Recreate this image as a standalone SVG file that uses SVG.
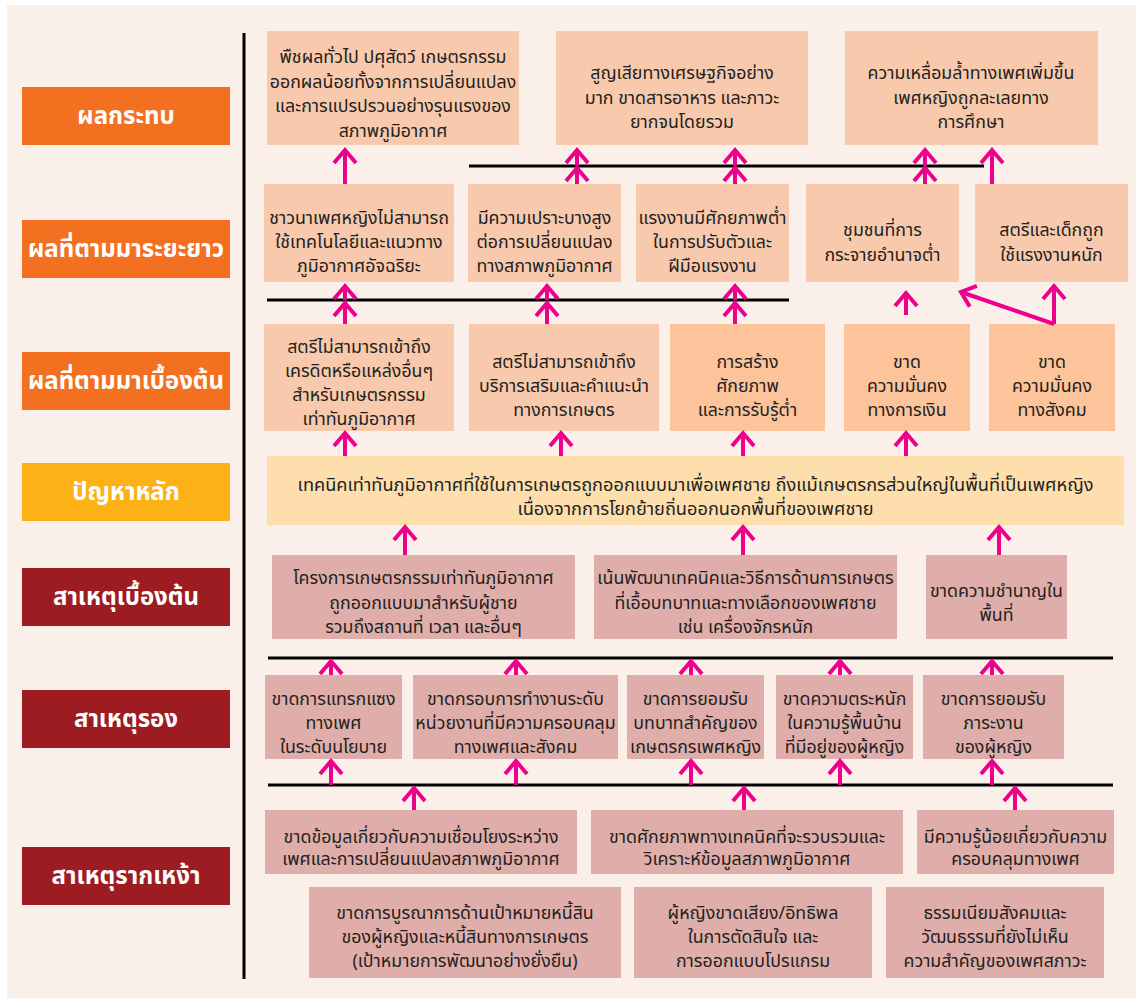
<svg xmlns="http://www.w3.org/2000/svg" width="1136" height="998" viewBox="0 0 1136 998">
<style>
.lbl{font-family:'Noto Sans Thai','Noto Sans','Liberation Sans',sans-serif;font-size:24px;font-weight:bold;fill:#fff;text-anchor:middle}
.t{font-family:'Noto Sans Thai','Noto Sans','Liberation Sans',sans-serif;font-size:17.8px;fill:#231f20;text-anchor:middle}
.orange{fill:#f37021}.amber{fill:#fcb116}.red{fill:#9d1c21}
.b1{fill:#f9c9ad}.b2{fill:#fdc49c}.bm{fill:#fddeac}.bc{fill:#e0aeaa}
.sep{stroke:#000;stroke-width:3}
.ar{stroke:#ec008c;stroke-width:4;fill:none;marker-end:url(#ah)}
</style>
<defs>
<marker id="ah" markerUnits="userSpaceOnUse" viewBox="-16 -14 20 28" markerWidth="20" markerHeight="28" refX="0" refY="0" orient="auto" overflow="visible">
<path d="M-13,-11 L0,0 L-13,11" fill="none" stroke="#ec008c" stroke-width="4"/>
</marker>
</defs>
<rect x="0" y="0" width="1136" height="998" fill="#fff"/>
<rect x="7" y="5" width="1129" height="993" fill="#fbefea"/>

<g id="labels">
<g id="lbl-impact"><rect class="orange" x="22" y="87" width="208" height="58"/><text class="lbl" x="126" y="124">ผลกระทบ</text></g>
<g id="lbl-long"><rect class="orange" x="22" y="220" width="208" height="58"/><text class="lbl" x="126" y="257">ผลที่ตามมาระยะยาว</text></g>
<g id="lbl-initial"><rect class="orange" x="22" y="352" width="208" height="58"/><text class="lbl" x="126" y="389">ผลที่ตามมาเบื้องต้น</text></g>
<g id="lbl-main"><rect class="amber" x="22" y="463" width="208" height="58"/><text class="lbl" x="126" y="500">ปัญหาหลัก</text></g>
<g id="lbl-cause1"><rect class="red" x="22" y="568" width="208" height="58"/><text class="lbl" x="126" y="605">สาเหตุเบื้องต้น</text></g>
<g id="lbl-cause2"><rect class="red" x="22" y="690" width="208" height="58"/><text class="lbl" x="126" y="727">สาเหตุรอง</text></g>
<g id="lbl-root"><rect class="red" x="22" y="847" width="208" height="58"/><text class="lbl" x="126" y="884">สาเหตุรากเหง้า</text></g>
</g>

<g id="nodes">
<g id="A"><rect class="b1" x="267" y="31" width="252" height="114"/><text class="t" x="393" y="63">พืชผลทั่วไป ปศุสัตว์ เกษตรกรรม<tspan x="393" dy="24.5">ออกผลน้อยทั้งจากการเปลี่ยนแปลง</tspan><tspan x="393" dy="24.5">และการแปรปรวนอย่างรุนแรงของ</tspan><tspan x="393" dy="24.5">สภาพภูมิอากาศ</tspan></text></g>
<g id="B"><rect class="b1" x="556" y="31" width="252" height="114"/><text class="t" x="682" y="79">สูญเสียทางเศรษฐกิจอย่าง<tspan x="682" dy="24.5">มาก ขาดสารอาหาร และภาวะ</tspan><tspan x="682" dy="24.5">ยากจนโดยรวม</tspan></text></g>
<g id="C"><rect class="b1" x="845" y="31" width="253" height="114"/><text class="t" x="971" y="79">ความเหลื่อมล้ำทางเพศเพิ่มขึ้น<tspan x="971" dy="24.5">เพศหญิงถูกละเลยทาง</tspan><tspan x="971" dy="24.5">การศึกษา</tspan></text></g>

<g id="D"><rect class="b1" x="264" y="184" width="190" height="98"/><text class="t" x="359" y="224">ชาวนาเพศหญิงไม่สามารถ<tspan x="359" dy="24">ใช้เทคโนโลยีและแนวทาง</tspan><tspan x="359" dy="24">ภูมิอากาศอัจฉริยะ</tspan></text></g>
<g id="E"><rect class="b1" x="468" y="184" width="153" height="98"/><text class="t" x="544.5" y="224">มีความเปราะบางสูง<tspan x="544.5" dy="24">ต่อการเปลี่ยนแปลง</tspan><tspan x="544.5" dy="24">ทางสภาพภูมิอากาศ</tspan></text></g>
<g id="F"><rect class="b1" x="636" y="184" width="153" height="98"/><text class="t" x="712.5" y="224">แรงงานมีศักยภาพต่ำ<tspan x="712.5" dy="24">ในการปรับตัวและ</tspan><tspan x="712.5" dy="24">ฝีมือแรงงาน</tspan></text></g>
<g id="G"><rect class="b1" x="806" y="184" width="153" height="98"/><text class="t" x="882.5" y="236">ชุมชนที่การ<tspan x="882.5" dy="24.5">กระจายอำนาจต่ำ</tspan></text></g>
<g id="H"><rect class="b1" x="975" y="184" width="153" height="98"/><text class="t" x="1051.5" y="236">สตรีและเด็กถูก<tspan x="1051.5" dy="24.5">ใช้แรงงานหนัก</tspan></text></g>

<g id="I"><rect class="b1" x="264" y="324" width="190" height="107"/><text class="t" x="359" y="353">สตรีไม่สามารถเข้าถึง<tspan x="359" dy="24">เครดิตหรือแหล่งอื่นๆ</tspan><tspan x="359" dy="24">สำหรับเกษตรกรรม</tspan><tspan x="359" dy="24">เท่าทันภูมิอากาศ</tspan></text></g>
<g id="J"><rect class="b1" x="469" y="324" width="190" height="107"/><text class="t" x="564" y="368">สตรีไม่สามารถเข้าถึง<tspan x="564" dy="24">บริการเสริมและคำแนะนำ</tspan><tspan x="564" dy="24">ทางการเกษตร</tspan></text></g>
<g id="K"><rect class="b2" x="670" y="324" width="155" height="107"/><text class="t" x="747.5" y="368">การสร้าง<tspan x="747.5" dy="24">ศักยภาพ</tspan><tspan x="747.5" dy="24">และการรับรู้ต่ำ</tspan></text></g>
<g id="L"><rect class="b2" x="844" y="324" width="126" height="107"/><text class="t" x="907" y="368">ขาด<tspan x="907" dy="24">ความมั่นคง</tspan><tspan x="907" dy="24">ทางการเงิน</tspan></text></g>
<g id="M"><rect class="b2" x="989" y="324" width="126" height="107"/><text class="t" x="1052" y="368">ขาด<tspan x="1052" dy="24">ความมั่นคง</tspan><tspan x="1052" dy="24">ทางสังคม</tspan></text></g>

<g id="MAIN"><rect class="bm" x="267" y="456" width="857" height="69"/><text class="t" x="695.5" y="491" style="font-size:18.2px">เทคนิคเท่าทันภูมิอากาศที่ใช้ในการเกษตรถูกออกแบบมาเพื่อเพศชาย ถึงแม้เกษตรกรส่วนใหญ่ในพื้นที่เป็นเพศหญิง<tspan x="695.5" dy="24">เนื่องจากการโยกย้ายถิ่นออกนอกพื้นที่ของเพศชาย</tspan></text></g>

<g id="N"><rect class="bc" x="272" y="555" width="303" height="84"/><text class="t" x="423.5" y="584">โครงการเกษตรกรรมเท่าทันภูมิอากาศ<tspan x="423.5" dy="24.5">ถูกออกแบบมาสำหรับผู้ชาย</tspan><tspan x="423.5" dy="24.5">รวมถึงสถานที่ เวลา และอื่นๆ</tspan></text></g>
<g id="O"><rect class="bc" x="594" y="555" width="303" height="84"/><text class="t" x="745.5" y="584">เน้นพัฒนาเทคนิคและวิธีการด้านการเกษตร<tspan x="745.5" dy="24.5">ที่เอื้อบทบาทและทางเลือกของเพศชาย</tspan><tspan x="745.5" dy="24.5">เช่น เครื่องจักรหนัก</tspan></text></g>
<g id="P"><rect class="bc" x="926" y="555" width="141" height="84"/><text class="t" x="996.5" y="597">ขาดความชำนาญใน<tspan x="996.5" dy="23.5">พื้นที่</tspan></text></g>

<g id="Q"><rect class="bc" x="265" y="675" width="137" height="84"/><text class="t" x="333.5" y="705">ขาดการแทรกแซง<tspan x="333.5" dy="24">ทางเพศ</tspan><tspan x="333.5" dy="24">ในระดับนโยบาย</tspan></text></g>
<g id="R"><rect class="bc" x="413" y="675" width="205" height="84"/><text class="t" x="515.5" y="705">ขาดกรอบการทำงานระดับ<tspan x="515.5" dy="24">หน่วยงานที่มีความครอบคลุม</tspan><tspan x="515.5" dy="24">ทางเพศและสังคม</tspan></text></g>
<g id="S"><rect class="bc" x="627" y="675" width="137" height="84"/><text class="t" x="695.5" y="705">ขาดการยอมรับ<tspan x="695.5" dy="24">บทบาทสำคัญของ</tspan><tspan x="695.5" dy="24">เกษตรกรเพศหญิง</tspan></text></g>
<g id="T"><rect class="bc" x="776" y="675" width="137" height="84"/><text class="t" x="844.5" y="705">ขาดความตระหนัก<tspan x="844.5" dy="24">ในความรู้พื้นบ้าน</tspan><tspan x="844.5" dy="24">ที่มีอยู่ของผู้หญิง</tspan></text></g>
<g id="U"><rect class="bc" x="923" y="675" width="141" height="84"/><text class="t" x="993.5" y="705">ขาดการยอมรับ<tspan x="993.5" dy="24">ภาระงาน</tspan><tspan x="993.5" dy="24">ของผู้หญิง</tspan></text></g>

<g id="V"><rect class="bc" x="265" y="810" width="312" height="64"/><text class="t" x="421" y="843">ขาดข้อมูลเกี่ยวกับความเชื่อมโยงระหว่าง<tspan x="421" dy="22">เพศและการเปลี่ยนแปลงสภาพภูมิอากาศ</tspan></text></g>
<g id="W"><rect class="bc" x="591" y="810" width="312" height="64"/><text class="t" x="747" y="843">ขาดศักยภาพทางเทคนิคที่จะรวบรวมและ<tspan x="747" dy="22">วิเคราะห์ข้อมูลสภาพภูมิอากาศ</tspan></text></g>
<g id="X"><rect class="bc" x="917" y="810" width="197" height="64"/><text class="t" x="1015.5" y="843">มีความรู้น้อยเกี่ยวกับความ<tspan x="1015.5" dy="22">ครอบคลุมทางเพศ</tspan></text></g>

<g id="Y"><rect class="bc" x="309" y="887" width="312" height="91"/><text class="t" x="465" y="919">ขาดการบูรณาการด้านเป้าหมายหนี้สิน<tspan x="465" dy="24">ของผู้หญิงและหนี้สินทางการเกษตร</tspan><tspan x="465" dy="24">(เป้าหมายการพัฒนาอย่างยั่งยืน)</tspan></text></g>
<g id="Z"><rect class="bc" x="634" y="887" width="238" height="91"/><text class="t" x="753" y="919">ผู้หญิงขาดเสียง/อิทธิพล<tspan x="753" dy="24">ในการตัดสินใจ และ</tspan><tspan x="753" dy="24">การออกแบบโปรแกรม</tspan></text></g>
<g id="AA"><rect class="bc" x="886" y="887" width="218" height="91"/><text class="t" x="995" y="919">ธรรมเนียมสังคมและ<tspan x="995" dy="24">วัฒนธรรมที่ยังไม่เห็น</tspan><tspan x="995" dy="24">ความสำคัญของเพศสภาวะ</tspan></text></g>
</g>

<g id="connectors">
<line class="sep" x1="244" y1="33" x2="244" y2="979"/>
<line class="sep" x1="469" y1="166" x2="984" y2="166"/>
<line class="sep" x1="267" y1="300" x2="789" y2="300"/>
<line class="sep" x1="268" y1="658" x2="1113" y2="658"/>
<line class="sep" x1="268" y1="785" x2="1113" y2="785"/>

<path class="ar" d="M345,184 V150"/>
<path class="ar" d="M577,184 V168"/><path class="ar" d="M577,166 V150"/>
<path class="ar" d="M735,184 V168"/><path class="ar" d="M735,166 V150"/>
<path class="ar" d="M925,184 V168"/><path class="ar" d="M925,166 V150"/>
<path class="ar" d="M992,184 V150"/>

<path class="ar" d="M345,324 V303"/><path class="ar" d="M345,300 V286"/>
<path class="ar" d="M547,324 V303"/><path class="ar" d="M547,300 V286"/>
<path class="ar" d="M735,324 V303"/><path class="ar" d="M735,300 V286"/>
<path class="ar" d="M906,315 V293"/>
<path class="ar" d="M1054,324 V286"/>
<path class="ar" d="M1054,324 L961,292"/>

<path class="ar" d="M345,456 V433"/>
<path class="ar" d="M561,456 V433"/>
<path class="ar" d="M743,456 V433"/>
<path class="ar" d="M906,456 V433"/>

<path class="ar" d="M405,555 V527"/>
<path class="ar" d="M743,555 V527"/>
<path class="ar" d="M999,555 V527"/>

<path class="ar" d="M331,675 V661"/>
<path class="ar" d="M516,675 V661"/>
<path class="ar" d="M691,675 V661"/>
<path class="ar" d="M840,675 V661"/>
<path class="ar" d="M992,675 V661"/>

<path class="ar" d="M331,785 V761"/>
<path class="ar" d="M516,785 V761"/>
<path class="ar" d="M691,785 V761"/>
<path class="ar" d="M840,785 V761"/>
<path class="ar" d="M992,785 V761"/>

<path class="ar" d="M414,810 V788"/>
<path class="ar" d="M744,810 V788"/>
<path class="ar" d="M1015,810 V788"/>
</g>
</svg>
